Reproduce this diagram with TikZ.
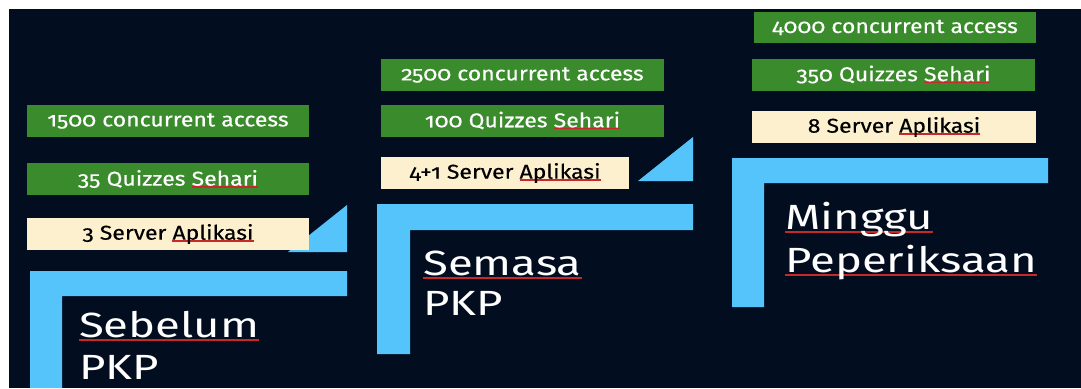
\documentclass[tikz,border=0pt]{standalone}
\usepackage{fontspec}
\setmainfont{Fira Sans}[Numbers=OldStyle]
\newfontfamily\boxfont{Fira Sans}[Numbers=OldStyle,FakeStretch=1.15,FakeBold=0.4]
\newfontfamily\titlefont{Fira Sans}[FakeStretch=1.3]
\definecolor{bgnavy}{RGB}{3,13,32}
\definecolor{boxgreen}{RGB}{58,139,44}
\definecolor{boxcream}{RGB}{253,240,206}
\definecolor{barblue}{RGB}{84,196,250}
\definecolor{typored}{RGB}{200,40,40}
\newcommand\typo[2][white]{\setbox0\hbox{\textcolor{#1}{#2}}\rlap{\textcolor{typored}{\rule[-0.1em]{\wd0}{1.2pt}}}\box0}
\tikzset{
  greenbox/.style={fill=boxgreen,text=white,minimum width=282pt,minimum height=32pt,inner sep=0pt,font=\boxfont\fontsize{20}{20}\selectfont},
  creambox/.style={greenbox,fill=boxcream,text=black},
  phasetitle/.style={anchor=base west,text=white,inner sep=0pt,font=\titlefont\fontsize{35}{35}\selectfont}
}
\begin{document}
\begin{tikzpicture}[x=1pt,y=-1pt,line join=round]
	\useasboundingbox (0,0) rectangle (1081,388);
	\fill[white] (0,0) rectangle (1081,388);
	\fill[bgnavy] (9,9) rectangle (1081,388);
	% Sebelum PKP
	\fill[barblue] (288,252) -- (347,252) -- (347,205) -- cycle;
	\fill[barblue] (30,271) -- (347,271) -- (347,296) -- (62,296) -- (62,388) -- (30,388) -- cycle;
	\node[greenbox] (acc1) at (168,121) {1500 concurrent access};
	\node[greenbox] (quiz1) at (168,179) {35 Quizzes \typo{Sehari}};
	\node[creambox] (srv1) at (168,234) {3 Server \typo[black]{Aplikasi}};
	\node[phasetitle] (ttl1a) at (79,337) {\typo{Sebelum}};
	\node[phasetitle] (ttl1b) at (79,379) {PKP};
	% Semasa PKP
	\fill[barblue] (638,181) -- (693,181) -- (693,137) -- cycle;
	\fill[barblue] (377,204) -- (693,204) -- (693,230) -- (410,230) -- (410,354) -- (377,354) -- cycle;
	\node[greenbox,minimum width=283pt] (acc2) at (522.5,75) {2500 concurrent access};
	\node[greenbox,minimum width=283pt] (quiz2) at (522.5,120.5) {100 Quizzes \typo{Sehari}};
	\node[creambox,minimum width=248pt] (srv2) at (505,173) {4+1 Server \typo[black]{Aplikasi}};
	\node[phasetitle] (ttl2a) at (423,275) {\typo{Semasa}};
	\node[phasetitle] (ttl2b) at (423,315) {PKP};
	% Minggu Peperiksaan
	\fill[barblue] (732,158) -- (1048,158) -- (1048,183) -- (764,183) -- (764,307) -- (732,307) -- cycle;
	\node[greenbox,minimum height=31pt] (acc3) at (895,27.5) {4000 concurrent access};
	\node[greenbox,minimum width=283pt] (quiz3) at (893.5,74.5) {350 Quizzes \typo{Sehari}};
	\node[creambox,minimum width=284pt] (srv3) at (894,127) {8 Server \typo[black]{Aplikasi}};
	\node[phasetitle] (ttl3a) at (785,229) {\typo{Minggu}};
	\node[phasetitle] (ttl3b) at (785,272) {\typo{Peperiksaan}};
\end{tikzpicture}
\end{document}
